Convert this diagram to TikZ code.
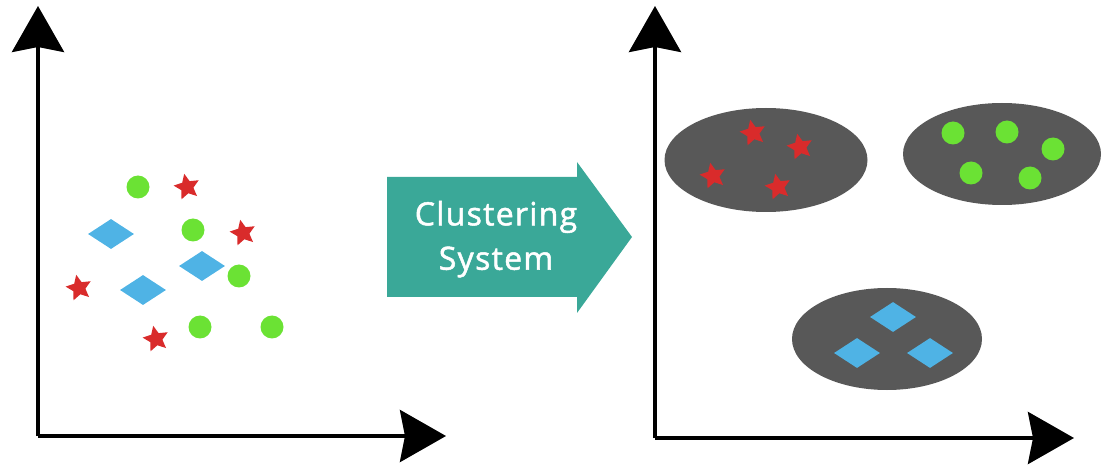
\documentclass[tikz,border=0pt]{standalone}
\usepackage{fontspec}
\setmainfont{Open Sans}
\usetikzlibrary{arrows.meta,shapes.geometric}
\definecolor{ptgreen}{HTML}{6BE234}
\definecolor{ptred}{HTML}{D92B2B}
\definecolor{ptblue}{HTML}{4FB3E5}
\definecolor{clgray}{HTML}{585858}
\definecolor{teal}{HTML}{3AA898}
\newfontfamily\lblfont{Open Sans}[FakeBold=1.6,LetterSpace=4]
\tikzset{
  axis/.style={line width=4pt,-{Stealth[length=46pt,width=52pt,inset=5pt]}},
  dotpt/.style={circle,fill=ptgreen,inner sep=0pt,minimum size=23pt},
  starpt/.style={star,star points=5,star point ratio=2.1,fill=ptred,inner sep=0pt,minimum size=27pt,shape border rotate=12},
  diapt/.style={diamond,fill=ptblue,inner sep=0pt,minimum width=46pt,minimum height=30pt},
  cluster/.style={ellipse,fill=clgray,inner sep=0pt},
  lbl/.style={text=white,font=\lblfont\fontsize{32}{35}\selectfont,inner sep=0pt}
}
\begin{document}
\begin{tikzpicture}[x=1pt,y=-1pt]
\useasboundingbox (0,0) rectangle (1104,465);
% left axes
\coordinate (lo) at (38,436);
\coordinate (ly) at (38,6);
\coordinate (lx) at (446,436);
\draw[axis] (lo) -- (ly);
\draw[axis] (lo) -- (lx);
% right axes
\coordinate (ro) at (655,438);
\coordinate (ry) at (655,6);
\coordinate (rx) at (1074,438);
\draw[axis] (ro) -- (ry);
\draw[axis] (ro) -- (rx);
% left scatter
\node[dotpt] (g1) at (138,187) {};
\node[dotpt] (g2) at (193,230) {};
\node[dotpt] (g3) at (239,276) {};
\node[dotpt] (g4) at (200,327) {};
\node[dotpt] (g5) at (272,327) {};
\node[starpt] (s1) at (187,187) {};
\node[starpt] (s2) at (243,233) {};
\node[starpt] (s3) at (79,288) {};
\node[starpt] (s4) at (156,339) {};
\node[diapt] (d1) at (111,234) {};
\node[diapt] (d2) at (202,266) {};
\node[diapt] (d3) at (143,290) {};
% clustering arrow
\fill[teal] (387,177) -- (577,177) -- (577,162) -- (632,237) -- (577,313) -- (577,297) -- (387,297) -- cycle;
\node[lbl] (t1) at (496,217) {Clustering};
\node[lbl] (t2) at (496,262) {System};
% clusters
\node[cluster,minimum width=203pt,minimum height=104pt] (c1) at (766,160) {};
\node[cluster,minimum width=198pt,minimum height=102pt] (c2) at (1002,154) {};
\node[cluster,minimum width=190pt,minimum height=102pt] (c3) at (887,339) {};
\node[starpt] (cs1) at (753,133) {};
\node[starpt] (cs2) at (800,147) {};
\node[starpt] (cs3) at (713,176) {};
\node[starpt] (cs4) at (778,187) {};
\node[dotpt] (cg1) at (953,133) {};
\node[dotpt] (cg2) at (1007,132) {};
\node[dotpt] (cg3) at (1053,149) {};
\node[dotpt] (cg4) at (971,173) {};
\node[dotpt] (cg5) at (1030,178) {};
\node[diapt] (cd1) at (893,317) {};
\node[diapt] (cd2) at (857,353) {};
\node[diapt] (cd3) at (930,353) {};
\end{tikzpicture}
\end{document}
